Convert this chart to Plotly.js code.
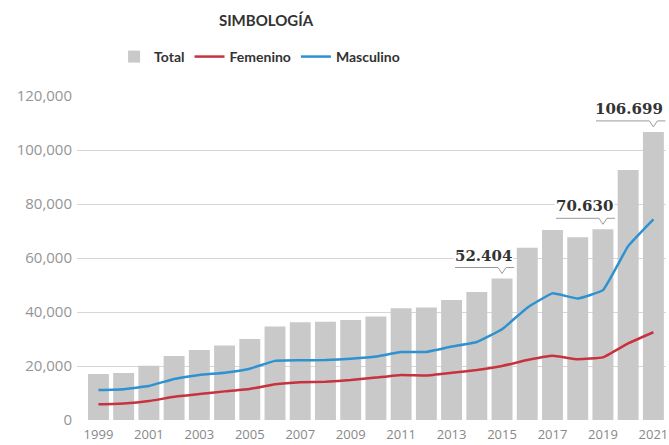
<!DOCTYPE html>
<html>
<head>
<meta charset="utf-8">
<script src="https://cdn.plot.ly/plotly-3.0.1.min.js"></script>
<style>html,body{margin:0;padding:0;background:#fff;}#chart{width:669px;height:445px;}</style>
</head>
<body>
<div id="chart"></div>
<script>
const years = [1999,2000,2001,2002,2003,2004,2005,2006,2007,2008,2009,2010,2011,2012,2013,2014,2015,2016,2017,2018,2019,2020,2021];
const total = [17000,17400,20100,23700,25900,27600,30000,34600,36200,36400,37000,38300,41400,41700,44400,47400,52404,63800,70400,67700,70630,92600,106699];
const femenino = [5800,6100,7000,8600,9600,10600,11500,13200,14000,14200,14800,15700,16700,16500,17500,18500,20000,22200,23800,22500,23200,28400,32500];
const masculino = [11100,11400,12600,15200,16700,17500,19000,21900,22100,22200,22700,23500,25200,25200,27200,28900,33600,41600,46900,45000,48100,64400,74300];
const labelYears = [2015,2019,2021];
const seriesNames = ['Total','Femenino','Masculino'];
const titleText = 'SIMBOLOGÍA';

function fmtDot(v){ return String(v).replace(/\B(?=(\d{3})+(?!\d))/g,'.'); }

const traces = [
  {type:'bar', x:years, y:total, name:seriesNames[0], marker:{color:'#c9c9c9'}, hoverinfo:'x+y'},
  {type:'scatter', mode:'lines', x:years, y:femenino, name:seriesNames[1], line:{color:'#c8323e', width:2.5, shape:'spline', smoothing:0.3}},
  {type:'scatter', mode:'lines', x:years, y:masculino, name:seriesNames[2], line:{color:'#2d92cf', width:2.5, shape:'spline', smoothing:0.3}}
];

const annotations = [];
const shapes = [];
labelYears.forEach(function(yr){
  const i = years.indexOf(yr);
  const v = total[i];
  const txt = fmtDot(v);
  const digits = txt.replace(/\./g,'').length;
  const w = digits*10.4 + 7;
  annotations.push({x:yr, y:v, xref:'x', yref:'y', text:txt, showarrow:false,
    xanchor:'right', yanchor:'bottom', xshift:12, yshift:12, bgcolor:'#ffffff', borderpad:1,
    font:{family:'DejaVu Serif', size:15, color:'#333333', weight:'bold'}});
  const x0 = -(w-12);
  shapes.push({type:'path', xref:'x', yref:'y', xsizemode:'pixel', ysizemode:'pixel',
    xanchor:yr, yanchor:v,
    path:'M'+x0+',11 L-4,11 L0,5 L4,11 L12,11',
    line:{color:'#9a9a9a', width:1}});
});

const layout = {
  width:669, height:445,
  margin:{l:77, r:3, t:95, b:25},
  paper_bgcolor:'#ffffff', plot_bgcolor:'#ffffff',
  bargap:0.17,
  showlegend:true,
  title:{text:titleText, xref:'container', yref:'container', x:266/669, y:1-21/445, xanchor:'center', yanchor:'middle',
    font:{family:'Lato', size:15, color:'#333333', weight:'bold'}},
  legend:{orientation:'h', x:0.31, xanchor:'center', y:1.117, yanchor:'middle',
    font:{family:'Lato', size:14, color:'#333333', weight:'bold'}, itemwidth:30, traceorder:'normal'},
  xaxis:{range:[1998.15,2021.5], tickmode:'linear', tick0:1999, dtick:2, tickformat:'d', showgrid:false, zeroline:false,
    showline:false, ticks:'', ticklabelstandoff:5, tickfont:{family:'Open Sans', size:13, color:'#888888'}, fixedrange:true},
  yaxis:{range:[0,120370], tickmode:'linear', tick0:0, dtick:20000, tickformat:',', showgrid:true, gridcolor:'#d6d6d6', gridwidth:1,
    zeroline:false, showline:false, ticks:'', ticklabelstandoff:4, tickfont:{family:'Open Sans', size:15, color:'#959595'}, fixedrange:true},
  annotations:annotations,
  shapes:shapes
};

Plotly.newPlot('chart', traces, layout, {displayModeBar:false, staticPlot:true});
</script>
</body>
</html>
